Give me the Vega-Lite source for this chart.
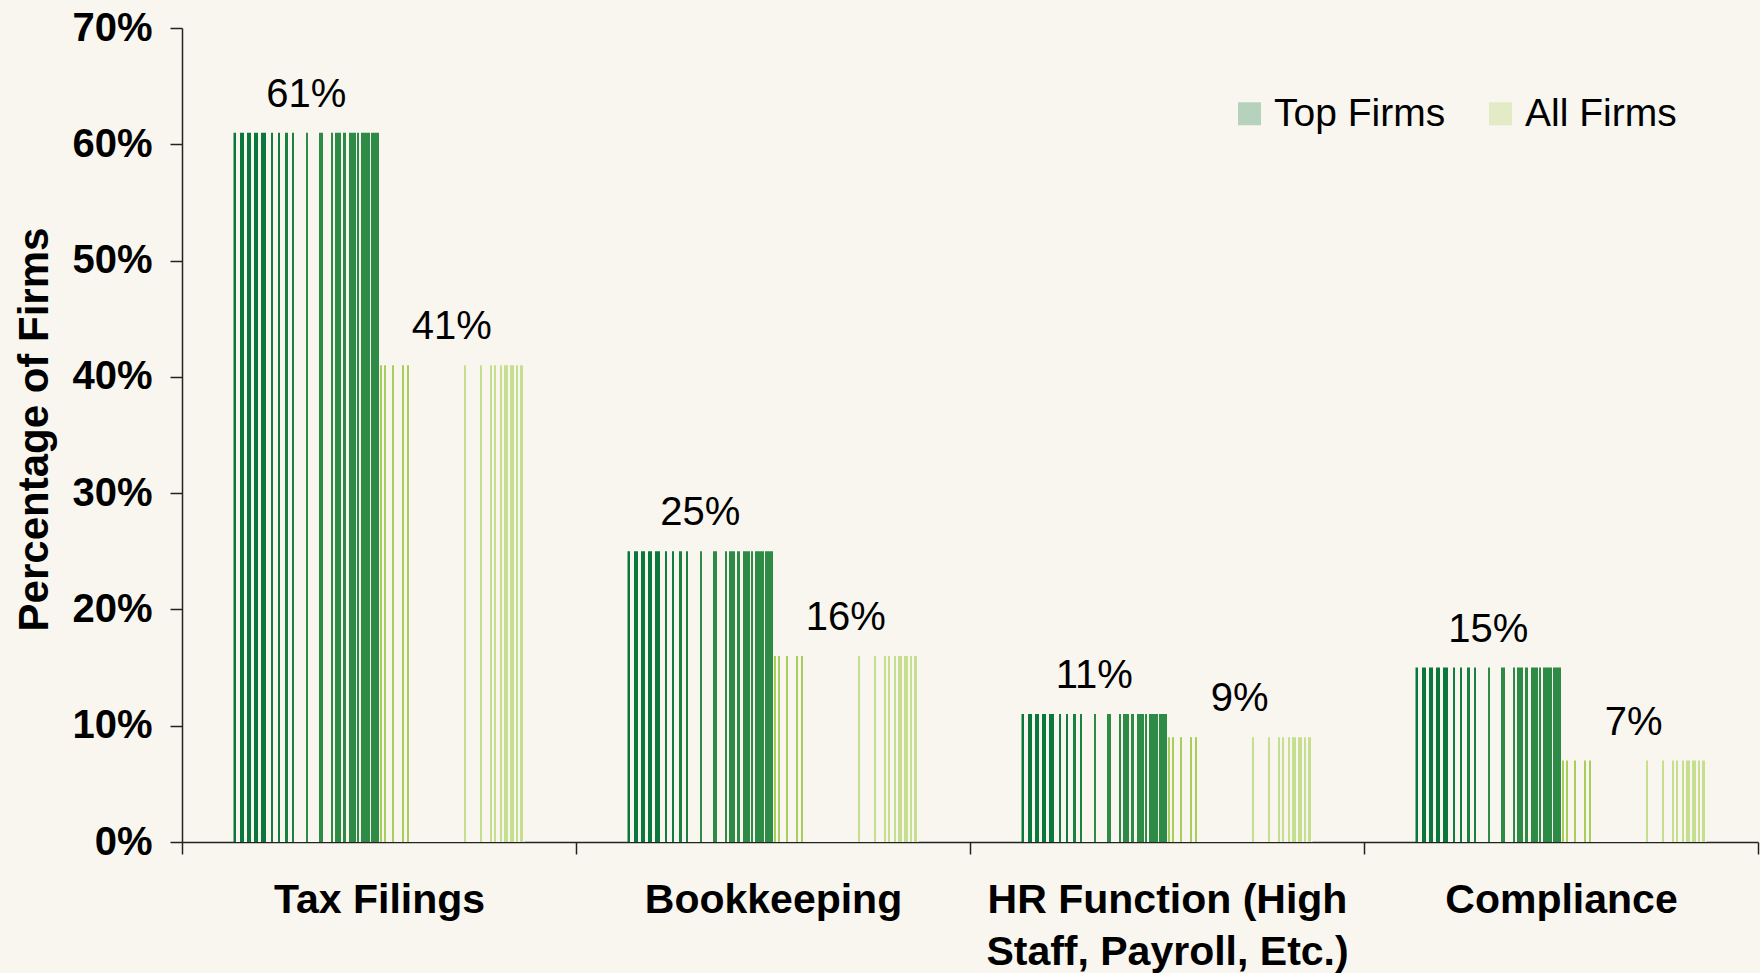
{
  "$schema": "https://vega.github.io/schema/vega-lite/v6.json",
  "width": 1576,
  "height": 814,
  "autosize": "none",
  "padding": {"left": 182, "top": 28, "right": 2, "bottom": 131},
  "background": "#f8f6ef",
  "config": {
    "view": {"stroke": null},
    "font": "Liberation Sans",
    "axis": {"domainColor": "#222222", "tickColor": "#222222", "domainWidth": 1.5, "tickWidth": 1.5, "grid": false, "labelColor": "#000000", "titleColor": "#000000"}
  },
  "data": {
    "values": [
      {"category": "Tax Filings", "series": "Top Firms", "value": 0.61},
      {"category": "Tax Filings", "series": "All Firms", "value": 0.41},
      {"category": "Bookkeeping", "series": "Top Firms", "value": 0.25},
      {"category": "Bookkeeping", "series": "All Firms", "value": 0.16},
      {"category": "HR Function (High Staff, Payroll, Etc.)", "series": "Top Firms", "value": 0.11},
      {"category": "HR Function (High Staff, Payroll, Etc.)", "series": "All Firms", "value": 0.09},
      {"category": "Compliance", "series": "Top Firms", "value": 0.15},
      {"category": "Compliance", "series": "All Firms", "value": 0.07}
    ]
  },
  "encoding": {
    "x": {
      "field": "category",
      "type": "nominal",
      "sort": ["Tax Filings", "Bookkeeping", "HR Function (High Staff, Payroll, Etc.)", "Compliance"],
      "scale": {"paddingInner": 0, "paddingOuter": 0},
      "title": null,
      "axis": {
        "tickBand": "extent",
        "labelAngle": 0,
        "labelFontSize": 41,
        "labelFontWeight": "bold",
        "labelPadding": 26,
        "tickSize": 12,
        "labelLineHeight": 52,
        "labelLimit": 0,
        "labelExpr": "datum.label == 'HR Function (High Staff, Payroll, Etc.)' ? ['HR Function (High', 'Staff, Payroll, Etc.)'] : datum.label"
      }
    },
    "xOffset": {
      "field": "series",
      "type": "nominal",
      "sort": ["Top Firms", "All Firms"],
      "scale": {"domain": ["Top Firms", "All Firms"], "paddingInner": 0, "paddingOuter": 0.354}
    },
    "y": {
      "field": "value",
      "type": "quantitative",
      "scale": {"domain": [0, 0.7]},
      "title": "Percentage of Firms",
      "axis": {
        "values": [0, 0.1, 0.2, 0.3, 0.4, 0.5, 0.6, 0.7],
        "format": ".0%",
        "labelFontSize": 40,
        "labelFontWeight": "bold",
        "labelPadding": 18,
        "tickSize": 12,
        "titleFontSize": 42,
        "titleFontWeight": "bold",
        "titleAngle": -90,
        "titleX": -148,
        "titleY": 401,
        "titleAlign": "center",
        "titleBaseline": "middle"
      }
    }
  },
  "layer": [
    {
      "transform": [{"filter": "datum.series == 'Top Firms'"}],
      "mark": {
        "type": "bar",
        "color": {
          "gradient": "linear", "x1": 0, "x2": 1, "y1": 0, "y2": 0,
          "stops": [
            {"offset": 0, "color": "#0a783c"}, {"offset": 0.014, "color": "#0a783c"},
            {"offset": 0.014, "color": "#f8f6ef"}, {"offset": 0.046, "color": "#f8f6ef"},
            {"offset": 0.046, "color": "#0a783c"}, {"offset": 0.069, "color": "#0a783c"},
            {"offset": 0.069, "color": "#f8f6ef"}, {"offset": 0.092, "color": "#f8f6ef"},
            {"offset": 0.092, "color": "#0a783c"}, {"offset": 0.12, "color": "#0a783c"},
            {"offset": 0.12, "color": "#f8f6ef"}, {"offset": 0.138, "color": "#f8f6ef"},
            {"offset": 0.138, "color": "#0a783c"}, {"offset": 0.166, "color": "#0a783c"},
            {"offset": 0.166, "color": "#f8f6ef"}, {"offset": 0.189, "color": "#f8f6ef"},
            {"offset": 0.189, "color": "#0a783c"}, {"offset": 0.221, "color": "#0a783c"},
            {"offset": 0.221, "color": "#f8f6ef"}, {"offset": 0.258, "color": "#f8f6ef"},
            {"offset": 0.258, "color": "#127d3f"}, {"offset": 0.274, "color": "#127d3f"},
            {"offset": 0.274, "color": "#f8f6ef"}, {"offset": 0.304, "color": "#f8f6ef"},
            {"offset": 0.304, "color": "#127d3f"}, {"offset": 0.318, "color": "#127d3f"},
            {"offset": 0.318, "color": "#f8f6ef"}, {"offset": 0.355, "color": "#f8f6ef"},
            {"offset": 0.355, "color": "#1a8141"}, {"offset": 0.373, "color": "#1a8141"},
            {"offset": 0.373, "color": "#f8f6ef"}, {"offset": 0.401, "color": "#f8f6ef"},
            {"offset": 0.401, "color": "#1a8141"}, {"offset": 0.415, "color": "#1a8141"},
            {"offset": 0.415, "color": "#f8f6ef"}, {"offset": 0.495, "color": "#f8f6ef"},
            {"offset": 0.495, "color": "#2e8b45"}, {"offset": 0.512, "color": "#2e8b45"},
            {"offset": 0.512, "color": "#f8f6ef"}, {"offset": 0.588, "color": "#f8f6ef"},
            {"offset": 0.588, "color": "#2e8b45"}, {"offset": 0.615, "color": "#2e8b45"},
            {"offset": 0.615, "color": "#f8f6ef"}, {"offset": 0.668, "color": "#f8f6ef"},
            {"offset": 0.668, "color": "#2e8b45"}, {"offset": 0.687, "color": "#2e8b45"},
            {"offset": 0.687, "color": "#f8f6ef"}, {"offset": 0.696, "color": "#f8f6ef"},
            {"offset": 0.696, "color": "#2e8b45"}, {"offset": 0.742, "color": "#2e8b45"},
            {"offset": 0.742, "color": "#f8f6ef"}, {"offset": 0.753, "color": "#f8f6ef"},
            {"offset": 0.753, "color": "#2e8b45"}, {"offset": 0.77, "color": "#2e8b45"},
            {"offset": 0.77, "color": "#f8f6ef"}, {"offset": 0.793, "color": "#f8f6ef"},
            {"offset": 0.793, "color": "#2e8b45"}, {"offset": 0.839, "color": "#2e8b45"},
            {"offset": 0.839, "color": "#f8f6ef"}, {"offset": 0.85, "color": "#f8f6ef"},
            {"offset": 0.85, "color": "#2e8b45"}, {"offset": 0.864, "color": "#2e8b45"},
            {"offset": 0.864, "color": "#f8f6ef"}, {"offset": 0.876, "color": "#f8f6ef"},
            {"offset": 0.876, "color": "#2e8b45"}, {"offset": 0.935, "color": "#2e8b45"},
            {"offset": 0.935, "color": "#f8f6ef"}, {"offset": 0.945, "color": "#f8f6ef"},
            {"offset": 0.945, "color": "#2e8b45"}, {"offset": 1, "color": "#2e8b45"}
          ]
        }
      }
    },
    {
      "transform": [{"filter": "datum.series == 'All Firms'"}],
      "mark": {
        "type": "bar",
        "color": {
          "gradient": "linear", "x1": 0, "x2": 1, "y1": 0, "y2": 0,
          "stops": [
            {"offset": 0, "color": "#f8f6ef"}, {"offset": 0.009, "color": "#f8f6ef"},
            {"offset": 0.009, "color": "#a9cd5c"}, {"offset": 0.023, "color": "#a9cd5c"},
            {"offset": 0.023, "color": "#f8f6ef"}, {"offset": 0.036, "color": "#f8f6ef"},
            {"offset": 0.036, "color": "#a9cd5c"}, {"offset": 0.048, "color": "#a9cd5c"},
            {"offset": 0.048, "color": "#f8f6ef"}, {"offset": 0.086, "color": "#f8f6ef"},
            {"offset": 0.086, "color": "#a9cd5c"}, {"offset": 0.102, "color": "#a9cd5c"},
            {"offset": 0.102, "color": "#f8f6ef"}, {"offset": 0.155, "color": "#f8f6ef"},
            {"offset": 0.155, "color": "#a9cd5c"}, {"offset": 0.17, "color": "#a9cd5c"},
            {"offset": 0.17, "color": "#f8f6ef"}, {"offset": 0.195, "color": "#f8f6ef"},
            {"offset": 0.195, "color": "#a9cd5c"}, {"offset": 0.209, "color": "#a9cd5c"},
            {"offset": 0.209, "color": "#f8f6ef"}, {"offset": 0.582, "color": "#f8f6ef"},
            {"offset": 0.582, "color": "#c6de90"}, {"offset": 0.6, "color": "#c6de90"},
            {"offset": 0.6, "color": "#f8f6ef"}, {"offset": 0.695, "color": "#f8f6ef"},
            {"offset": 0.695, "color": "#c6de90"}, {"offset": 0.709, "color": "#c6de90"},
            {"offset": 0.709, "color": "#f8f6ef"}, {"offset": 0.761, "color": "#f8f6ef"},
            {"offset": 0.761, "color": "#c6de90"}, {"offset": 0.777, "color": "#c6de90"},
            {"offset": 0.777, "color": "#f8f6ef"}, {"offset": 0.789, "color": "#f8f6ef"},
            {"offset": 0.789, "color": "#c6de90"}, {"offset": 0.802, "color": "#c6de90"},
            {"offset": 0.802, "color": "#f8f6ef"}, {"offset": 0.83, "color": "#f8f6ef"},
            {"offset": 0.83, "color": "#c6de90"}, {"offset": 0.843, "color": "#c6de90"},
            {"offset": 0.843, "color": "#f8f6ef"}, {"offset": 0.857, "color": "#f8f6ef"},
            {"offset": 0.857, "color": "#c6de90"}, {"offset": 0.886, "color": "#c6de90"},
            {"offset": 0.886, "color": "#f8f6ef"}, {"offset": 0.898, "color": "#f8f6ef"},
            {"offset": 0.898, "color": "#c6de90"}, {"offset": 0.927, "color": "#c6de90"},
            {"offset": 0.927, "color": "#f8f6ef"}, {"offset": 0.939, "color": "#f8f6ef"},
            {"offset": 0.939, "color": "#c6de90"}, {"offset": 0.955, "color": "#c6de90"},
            {"offset": 0.955, "color": "#f8f6ef"}, {"offset": 0.966, "color": "#f8f6ef"},
            {"offset": 0.966, "color": "#c6de90"}, {"offset": 0.991, "color": "#c6de90"},
            {"offset": 0.991, "color": "#f8f6ef"}, {"offset": 1, "color": "#f8f6ef"}
          ]
        }
      }
    },
    {
      "mark": {"type": "bar", "opacity": 0},
      "encoding": {
        "color": {
          "field": "series",
          "type": "nominal",
          "scale": {"domain": ["Top Firms", "All Firms"], "range": ["#0a783c", "#a9cd5c"]},
          "legend": {
            "title": null,
            "orient": "none",
            "legendX": 1048,
            "legendY": 66,
            "direction": "horizontal",
            "padding": 0,
            "symbolType": "square",
            "symbolSize": 529,
            "symbolOpacity": 0.28,
            "symbolStrokeWidth": 0,
            "labelFontSize": 39,
            "labelColor": "#000000",
            "labelOffset": 5,
            "columnPadding": 35,
            "labelLimit": 0
          }
        }
      }
    },
    {
      "mark": {"type": "text", "dy": -26, "baseline": "alphabetic", "fontSize": 40, "color": "#000000"},
      "encoding": {"text": {"field": "value", "format": ".0%"}}
    }
  ]
}
